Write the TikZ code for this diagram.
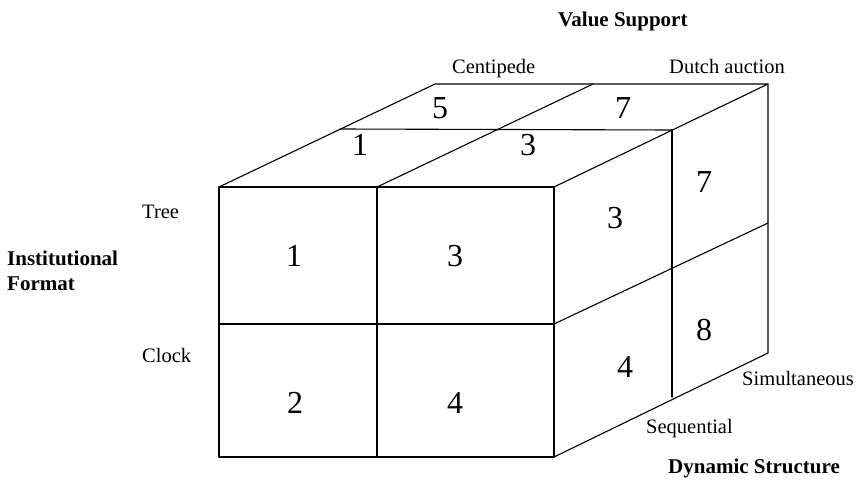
\documentclass[tikz,border=0pt]{standalone}
\usepackage{fontspec}
\setmainfont{Liberation Serif}
\begin{document}
\begin{tikzpicture}[x=1pt,y=-1pt,
  edge/.style={line width=1.1pt,line cap=round,line join=round},
  num/.style={font=\fontsize{32}{34}\selectfont,inner sep=0pt},
  lab/.style={font=\fontsize{20.5}{24}\selectfont,inner sep=0pt,anchor=base west},
  blab/.style={font=\fontsize{21}{25}\selectfont\bfseries,inner sep=0pt,anchor=base west,align=left}]
\useasboundingbox (0,0) rectangle (856,479);
% front face corners
\coordinate (ftl) at (219,187);
\coordinate (ftm) at (377,187);
\coordinate (ftr) at (554,187);
\coordinate (fml) at (219,324);
\coordinate (fmr) at (554,324);
\coordinate (fbl) at (219,457);
\coordinate (fbm) at (377,457);
\coordinate (fbr) at (554,457);
% middle depth
\coordinate (mtl) at (340,129);
\coordinate (mtr) at (672,130);
\coordinate (mbr) at (672,397);
% back
\coordinate (btl) at (435,84);
\coordinate (btm) at (593,84);
\coordinate (btr) at (768,84);
\coordinate (bmr) at (768,223);
\coordinate (bbr) at (768,353);
% front face
\draw[edge] (ftl) rectangle (fbr);
\draw[edge] (ftm) -- (fbm);
\draw[edge] (fml) -- (fmr);
% top face
\draw[edge] (ftl) -- (btl) -- (btr) -- (ftr);
\draw[edge] (ftm) -- (btm);
\draw[edge] (mtl) -- (mtr);
% right face
\draw[edge] (btr) -- (bbr) -- (fbr);
\draw[edge] (mtr) -- (mbr);
\draw[edge] (fmr) -- (bmr);
% numbers front
\node[num] (n1) at (294,256) {1};
\node[num] (n3) at (455,256) {3};
\node[num] (n2) at (295,403) {2};
\node[num] (n4) at (455,403) {4};
% numbers top
\node[num] (t5) at (440,108) {5};
\node[num] (t1) at (360,145) {1};
\node[num] (t7) at (623,108) {7};
\node[num] (t3) at (528,145) {3};
% numbers right
\node[num] (r3) at (615,218) {3};
\node[num] (r7) at (704,182) {7};
\node[num] (r8) at (704,330) {8};
\node[num] (r4) at (625,367) {4};
% labels
\node[blab] (vs) at (558,26) {Value Support};
\node[lab] (cent) at (452,73) {Centipede};
\node[lab] (dutch) at (669,73) {Dutch auction};
\node[lab] (tree) at (142,218) {Tree};
\node[lab] (clock) at (142,362) {Clock};
\node[blab] (inst) at (7,265) {Institutional};
\node[blab] (form) at (7,290) {Format};
\node[lab] (sim) at (742,385) {Simultaneous};
\node[lab] (seq) at (646,433) {Sequential};
\node[blab] (dyn) at (668,473) {Dynamic Structure};
\end{tikzpicture}
\end{document}
